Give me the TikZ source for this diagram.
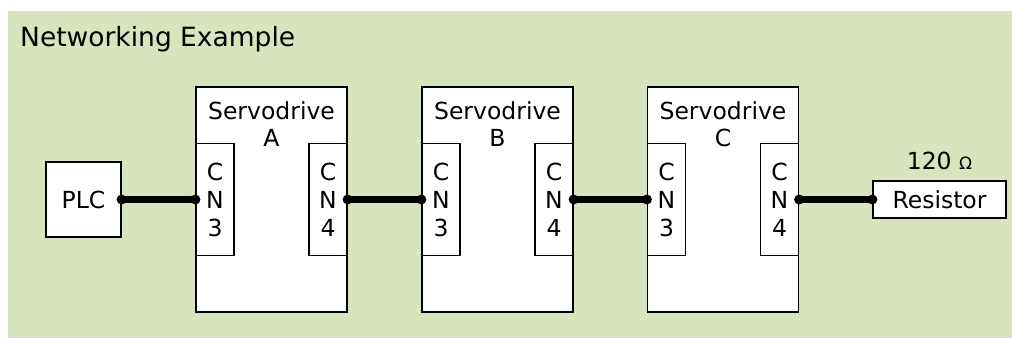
\documentclass[tikz,border=0pt]{standalone}
\usepackage{fontspec}
\setmainfont{DejaVu Sans}
\usetikzlibrary{positioning}
\definecolor{cPanel}{HTML}{D7E4BD}
\tikzset{
  box/.style={draw, line width=1.2pt, fill=white, inner sep=0pt,
              font=\fontsize{23.5}{28}\selectfont},
  drive/.style={box, minimum width=151pt, minimum height=225pt},
  port/.style={box, minimum width=38pt, minimum height=112pt, align=center},
  wire/.style={line width=7pt},
  txt/.style={inner sep=0pt, font=\fontsize{23.5}{27}\selectfont},
}

\begin{document}
\begin{tikzpicture}[x=1pt, y=-1pt]
  \useasboundingbox (0,0) rectangle (1012,338);
  \fill[cPanel] (8,11) rectangle (1012,338);
  \node[txt, anchor=base west, font=\fontsize{26.5}{30}\selectfont] (title) at (20,46) {Networking Example};

  \node[box, minimum size=75pt] (plc) at (83.5,199.5) {PLC};
  \foreach \nm/\x in {A/271.5, B/497.5, C/723} {
    \node[drive] (drv\nm) at (\x,199.5) {};
    \node[txt, align=center, below=15pt of drv\nm.north] (lbl\nm) {Servodrive\\\nm};
    \node[port, anchor=west] (cnl\nm) at (drv\nm.west) {C\\N\\3};
    \node[port, anchor=east] (cnr\nm) at (drv\nm.east) {C\\N\\4};
  }
  \node[box, minimum width=133pt, minimum height=37pt] (res) at (939.5,199.5) {Resistor};
  \node[txt, above=10pt of res] (ohm) {120 {\fontsize{17}{17}\selectfont Ω}};

  % bus cable
  \foreach \a/\b in {plc/cnlA, cnrA/cnlB, cnrB/cnlC, cnrC/res} {
    \draw[wire] (\a.east) -- (\b.west);
    \fill (\a.east) circle (5pt) (\b.west) circle (5pt);
  }
\end{tikzpicture}
\end{document}
